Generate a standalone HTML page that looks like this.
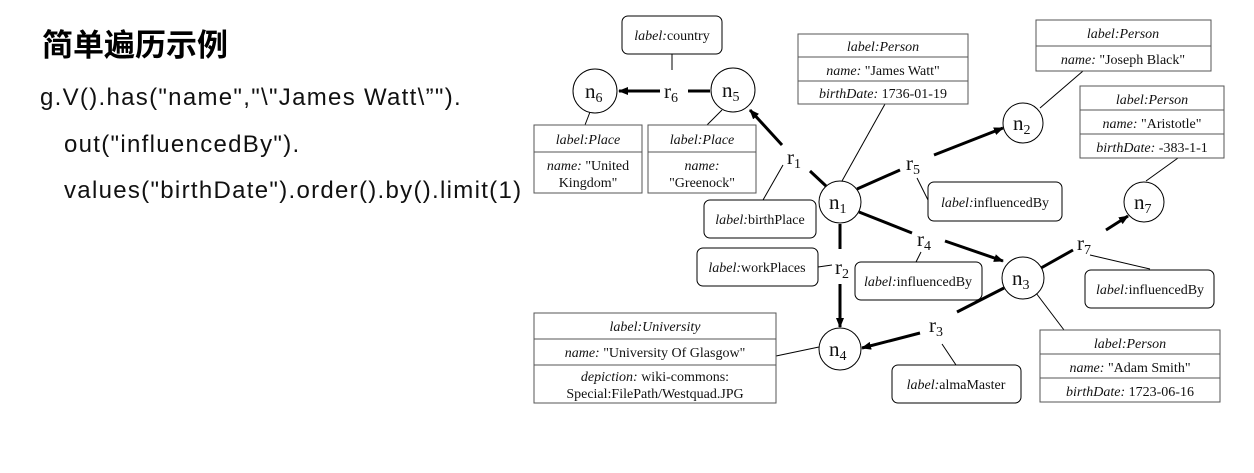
<!DOCTYPE html>
<html><head><meta charset="utf-8"><style>
body{margin:0;background:#fff;width:1254px;height:473px;overflow:hidden;position:relative}
.t{position:absolute;left:42px;top:20px;font:bold 31px "Noto Sans CJK SC",sans-serif;color:#000}
.c{position:absolute;font:24px "Liberation Sans",sans-serif;color:#111;letter-spacing:1.3px}
svg{position:absolute;left:0;top:0}
svg text{font-family:"Liberation Serif",serif;fill:#111}
</style></head><body>
<div class="t">简单遍历示例</div>
<div class="c" style="left:40px;top:84px">g.V().has("name","\"James Watt\”").</div>
<div class="c" style="left:64px;top:131px">out("influencedBy").</div>
<div class="c" style="left:64px;top:177px">values("birthDate").order().by().limit(1)</div>
<svg width="1254" height="473" viewBox="0 0 1254 473">
<defs><marker id="a" markerWidth="10" markerHeight="8" refX="9" refY="4" orient="auto" markerUnits="userSpaceOnUse"><path d="M0,0L10,4L0,8z" fill="#000"/></marker></defs>
<g stroke="#000" stroke-width="1" fill="none">
<line x1="672" y1="54" x2="672" y2="70"/>
<line x1="590" y1="112" x2="585" y2="125"/>
<line x1="722" y1="110" x2="707" y2="125"/>
<line x1="763" y1="200" x2="783" y2="165"/>
<line x1="885" y1="104" x2="842" y2="181"/>
<line x1="1083" y1="71" x2="1040" y2="108"/>
<line x1="917" y1="178" x2="928" y2="200"/>
<line x1="1178" y1="158" x2="1146" y2="181"/>
<polyline points="1090,255 1150,269"/>
<polyline points="921,252 916,262"/>
<line x1="818" y1="267" x2="832" y2="265"/>
<line x1="942" y1="344" x2="956" y2="365"/>
<line x1="1036" y1="293" x2="1064" y2="330"/>
<line x1="776" y1="356" x2="819" y2="347"/>
</g>
<g stroke="#000" stroke-width="3" fill="none">
<line x1="660" y1="91" x2="619" y2="91" marker-end="url(#a)"/>
<line x1="688" y1="91" x2="710" y2="91"/>
<line x1="782" y1="145" x2="750" y2="110" marker-end="url(#a)"/>
<line x1="826" y1="186" x2="810" y2="171"/>
<line x1="857" y1="189" x2="900" y2="170"/>
<line x1="934" y1="155" x2="1003" y2="128" marker-end="url(#a)"/>
<line x1="859" y1="212" x2="912" y2="233"/>
<line x1="945" y1="241" x2="1003" y2="261" marker-end="url(#a)"/>
<line x1="840" y1="224" x2="840" y2="249"/>
<line x1="840" y1="284" x2="840" y2="327" marker-end="url(#a)"/>
<line x1="1041" y1="268" x2="1073" y2="250"/>
<line x1="1106" y1="230" x2="1128" y2="216" marker-end="url(#a)"/>
<line x1="1004" y1="288" x2="957" y2="312"/>
<line x1="920" y1="333" x2="862" y2="348" marker-end="url(#a)"/>
</g>
<g stroke="#000" stroke-width="1" fill="#fff">
<circle cx="595" cy="91" r="22"/><circle cx="733" cy="90" r="22"/>
<circle cx="840" cy="202" r="21"/><circle cx="1023" cy="123" r="20"/>
<circle cx="1144" cy="202" r="20"/><circle cx="1023" cy="278" r="21"/>
<circle cx="840" cy="349" r="21"/>
<rect x="622" y="16" width="100" height="38" rx="6"/>
<rect x="704" y="200" width="112" height="38" rx="6"/>
<rect x="928" y="182" width="134" height="39" rx="6"/>
<rect x="1085" y="270" width="129" height="38" rx="6"/>
<rect x="855" y="262" width="127" height="38" rx="6"/>
<rect x="697" y="248" width="121" height="38" rx="6"/>
<rect x="892" y="365" width="129" height="38" rx="6"/>
</g>
<g stroke="#555" stroke-width="1" fill="#fff">
<rect x="534" y="125" width="108" height="68"/><line x1="534" y1="152" x2="642" y2="152"/>
<rect x="648" y="125" width="108" height="68"/><line x1="648" y1="152" x2="756" y2="152"/>
<rect x="798" y="34" width="170" height="70"/><line x1="798" y1="57" x2="968" y2="57"/><line x1="798" y1="81" x2="968" y2="81"/>
<rect x="1036" y="20" width="175" height="51"/><line x1="1036" y1="46" x2="1211" y2="46"/>
<rect x="1080" y="86" width="144" height="72"/><line x1="1080" y1="110" x2="1224" y2="110"/><line x1="1080" y1="134" x2="1224" y2="134"/>
<rect x="1040" y="330" width="180" height="72"/><line x1="1040" y1="354" x2="1220" y2="354"/><line x1="1040" y1="378" x2="1220" y2="378"/>
<rect x="534" y="313" width="242" height="90"/><line x1="534" y1="339" x2="776" y2="339"/><line x1="534" y1="365" x2="776" y2="365"/>
</g>
<g font-size="14" text-anchor="middle">
<text x="672" y="40"><tspan font-style="italic">label:</tspan>country</text>
<text x="760" y="224"><tspan font-style="italic">label:</tspan>birthPlace</text>
<text x="995" y="207"><tspan font-style="italic">label:</tspan>influencedBy</text>
<text x="1150" y="294"><tspan font-style="italic">label:</tspan>influencedBy</text>
<text x="918" y="286"><tspan font-style="italic">label:</tspan>influencedBy</text>
<text x="757" y="272"><tspan font-style="italic">label:</tspan>workPlaces</text>
<text x="956" y="389"><tspan font-style="italic">label:</tspan>almaMaster</text>
<text x="588" y="144" font-style="italic">label:Place</text>
<text x="588" y="170"><tspan font-style="italic">name:</tspan> "United</text>
<text x="588" y="187">Kingdom"</text>
<text x="702" y="144" font-style="italic">label:Place</text>
<text x="702" y="170" font-style="italic">name:</text>
<text x="702" y="187">"Greenock"</text>
<text x="883" y="51" font-style="italic">label:Person</text>
<text x="883" y="75"><tspan font-style="italic">name:</tspan> "James Watt"</text>
<text x="883" y="98"><tspan font-style="italic">birthDate:</tspan> 1736-01-19</text>
<text x="1123" y="38" font-style="italic">label:Person</text>
<text x="1123" y="64"><tspan font-style="italic">name:</tspan> "Joseph Black"</text>
<text x="1152" y="104" font-style="italic">label:Person</text>
<text x="1152" y="128"><tspan font-style="italic">name:</tspan> "Aristotle"</text>
<text x="1152" y="152"><tspan font-style="italic">birthDate:</tspan> -383-1-1</text>
<text x="1130" y="348" font-style="italic">label:Person</text>
<text x="1130" y="372"><tspan font-style="italic">name:</tspan> "Adam Smith"</text>
<text x="1130" y="396"><tspan font-style="italic">birthDate:</tspan> 1723-06-16</text>
<text x="655" y="331" font-style="italic">label:University</text>
<text x="655" y="357"><tspan font-style="italic">name:</tspan> "University Of Glasgow"</text>
<text x="655" y="381"><tspan font-style="italic">depiction:</tspan> wiki-commons:</text>
<text x="655" y="398">Special:FilePath/Westquad.JPG</text>
</g>
<g font-size="21">
<text x="585" y="98">n<tspan font-size="14" dy="4">6</tspan></text>
<text x="722" y="97">n<tspan font-size="14" dy="4">5</tspan></text>
<text x="829" y="209">n<tspan font-size="14" dy="4">1</tspan></text>
<text x="1013" y="130">n<tspan font-size="14" dy="4">2</tspan></text>
<text x="1134" y="209">n<tspan font-size="14" dy="4">7</tspan></text>
<text x="1012" y="285">n<tspan font-size="14" dy="4">3</tspan></text>
<text x="829" y="356">n<tspan font-size="14" dy="4">4</tspan></text>
<text x="664" y="98">r<tspan font-size="14" dy="4">6</tspan></text>
<text x="787" y="164">r<tspan font-size="14" dy="4">1</tspan></text>
<text x="906" y="170">r<tspan font-size="14" dy="4">5</tspan></text>
<text x="917" y="246">r<tspan font-size="14" dy="4">4</tspan></text>
<text x="835" y="274">r<tspan font-size="14" dy="4">2</tspan></text>
<text x="1077" y="250">r<tspan font-size="14" dy="4">7</tspan></text>
<text x="929" y="332">r<tspan font-size="14" dy="4">3</tspan></text>
</g>
</svg>
</body></html>
